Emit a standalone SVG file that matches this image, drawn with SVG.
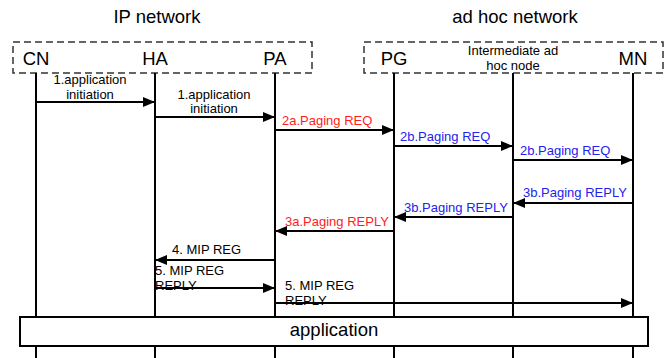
<svg xmlns="http://www.w3.org/2000/svg" width="668" height="358" viewBox="0 0 668 358">
<style>
text{font-family:"Liberation Sans",Arial,sans-serif;fill:#000}
.big{font-size:18.5px}
.sm{font-size:13px}
.red{fill:#ff1c1c}
.blue{fill:#2323f0}
.life{stroke:#000;stroke-width:2;fill:none}
.msg{stroke:#000;stroke-width:1.8;fill:none}
.dash{stroke:#333;stroke-width:1.5;fill:none;stroke-dasharray:7 4}
</style>
<defs>
<marker id="ah" markerUnits="userSpaceOnUse" markerWidth="12" markerHeight="10" refX="12" refY="5" orient="auto">
<path d="M0,0 L12,5 L0,10 z" fill="#000"/>
</marker>
</defs>
<rect width="668" height="358" fill="#fff"/>
<g id="titles">
<text class="big" x="157" y="23" text-anchor="middle">IP network</text>
<text class="big" x="515" y="23" text-anchor="middle">ad hoc network</text>
</g>
<g id="groups">
<rect class="dash" x="13" y="42" width="299" height="31"/>
<rect class="dash" x="364" y="42" width="299" height="31"/>
</g>
<g id="lifelines">
<line class="life" x1="36" y1="73" x2="36" y2="358"/>
<line class="life" x1="155" y1="73" x2="155" y2="358"/>
<line class="life" x1="275" y1="73" x2="275" y2="358"/>
<line class="life" x1="394" y1="73" x2="394" y2="358"/>
<line class="life" x1="513" y1="73" x2="513" y2="358"/>
<line class="life" x1="633" y1="73" x2="633" y2="358"/>
</g>
<g id="CN"><text class="big" x="36" y="65" text-anchor="middle">CN</text></g>
<g id="HA"><text class="big" x="155" y="65" text-anchor="middle">HA</text></g>
<g id="PA"><text class="big" x="275" y="65" text-anchor="middle">PA</text></g>
<g id="PG"><text class="big" x="394" y="65" text-anchor="middle">PG</text></g>
<g id="INT"><text class="sm" x="513" y="55" text-anchor="middle">Intermediate ad</text><text class="sm" x="513" y="70" text-anchor="middle">hoc node</text></g>
<g id="MN"><text class="big" x="633" y="65" text-anchor="middle">MN</text></g>
<g id="connectors">
<line class="msg" x1="36" y1="102" x2="155" y2="102" marker-end="url(#ah)"/>
<line class="msg" x1="155" y1="117" x2="275" y2="117" marker-end="url(#ah)"/>
<line class="msg" x1="275" y1="130" x2="394" y2="130" marker-end="url(#ah)"/>
<line class="msg" x1="394" y1="146" x2="513" y2="146" marker-end="url(#ah)"/>
<line class="msg" x1="513" y1="160" x2="633" y2="160" marker-end="url(#ah)"/>
<line class="msg" x1="633" y1="203" x2="513" y2="203" marker-end="url(#ah)"/>
<line class="msg" x1="513" y1="217" x2="394" y2="217" marker-end="url(#ah)"/>
<line class="msg" x1="394" y1="231" x2="275" y2="231" marker-end="url(#ah)"/>
<line class="msg" x1="275" y1="260" x2="155" y2="260" marker-end="url(#ah)"/>
<line class="msg" x1="155" y1="288" x2="275" y2="288" marker-end="url(#ah)"/>
<line class="msg" x1="275" y1="303" x2="633" y2="303" marker-end="url(#ah)"/>
</g>
<g id="labels">
<text class="sm" x="90" y="84" text-anchor="middle">1.application</text>
<text class="sm" x="90" y="99" text-anchor="middle">initiation</text>
<text class="sm" x="214" y="99" text-anchor="middle">1.application</text>
<text class="sm" x="214" y="113" text-anchor="middle">initiation</text>
<text class="sm red" x="282" y="125">2a.Paging REQ</text>
<text class="sm blue" x="400" y="141">2b.Paging REQ</text>
<text class="sm blue" x="520" y="155">2b.Paging REQ</text>
<text class="sm blue" x="523" y="197">3b.Paging REPLY</text>
<text class="sm blue" x="404" y="212">3b.Paging REPLY</text>
<text class="sm red" x="285" y="226">3a.Paging REPLY</text>
<text class="sm" x="172" y="254">4. MIP REG</text>
<text class="sm" x="155" y="275">5. MIP REG</text>
<text class="sm" x="155" y="290">REPLY</text>
<text class="sm" x="285" y="290">5. MIP REG</text>
<text class="sm" x="285" y="305">REPLY</text>
</g>
<g id="application">
<rect x="20" y="317" width="628" height="29" fill="#fff" stroke="#000" stroke-width="2"/>
<text class="big" x="334" y="336" text-anchor="middle">application</text>
</g>
</svg>
